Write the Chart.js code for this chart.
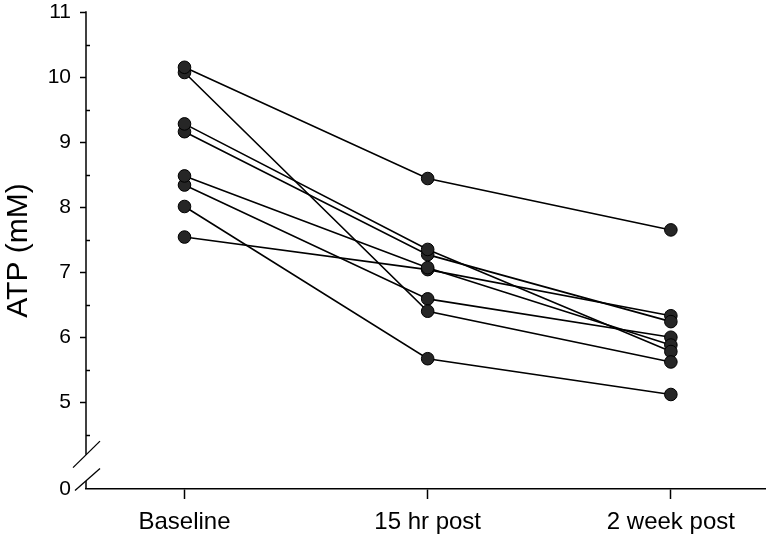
<!DOCTYPE html>
<html>
<head>
<meta charset="utf-8">
<script src="https://cdn.jsdelivr.net/npm/chart.js@4.4.1/dist/chart.umd.min.js"></script>
<style>
  body { margin: 0; background: #fff; }
  canvas { display: block; }
</style>
</head>
<body>
<canvas id="atpChart" width="773" height="538"></canvas>
<script>
// time points on the x axis
const timepoints = ["Baseline", "15 hr post", "2 week post"];

// ATP (mM) per subject
const baseline   = [10.15, 10.07, 9.28, 9.16, 8.48, 8.34, 8.01, 7.54];
const post15hr   = [8.44, 6.40, 7.35, 7.27, 7.07, 6.59, 5.67, 7.04];
const post2week  = [7.65, 5.62, 5.78, 6.24, 5.88, 6.00, 5.12, 6.33];

// y axis: broken axis, bottom of the scale is labelled 0
const yTicks = [5, 6, 7, 8, 9, 10, 11];
const yMinorTicks = [4.5, 5.5, 6.5, 7.5, 8.5, 9.5, 10.5];
const yBottom = 3.667;   // where the "0" sits
const yTop = 11;
const breakHi = 4.195;
const breakLo = 3.79;

const FONT = "'Liberation Sans', Arial, sans-serif";
Chart.defaults.color = "#000";
Chart.defaults.font.family = FONT;

const datasets = baseline.map((b, i) => ({
  label: "subject " + (i + 1),
  data: [
    { x: 0, y: b },
    { x: 1, y: post15hr[i] },
    { x: 2, y: post2week[i] }
  ],
  borderColor: "#000",
  borderWidth: 1.6,
  backgroundColor: "#262626",
  pointBackgroundColor: "#262626",
  pointBorderColor: "#000",
  pointBorderWidth: 1,
  pointRadius: 6.3,
  tension: 0
}));

// draw the split y axis line, inner minor ticks and the break marks
const axisDecor = {
  id: "axisDecor",
  afterDraw(chart) {
    const { ctx } = chart;
    const y = chart.scales.y;
    const x0 = chart.chartArea.left;
    const seg = (ax, ay, bx, by) => {
      ctx.beginPath();
      ctx.moveTo(ax, ay);
      ctx.lineTo(bx, by);
      ctx.stroke();
    };
    ctx.save();
    ctx.strokeStyle = "#000";
    ctx.lineWidth = 1.5;
    seg(x0, y.getPixelForValue(yTop) - 0.75, x0, y.getPixelForValue(breakHi));
    seg(x0, y.getPixelForValue(breakLo), x0, y.getPixelForValue(yBottom));
    yMinorTicks.forEach(v => {
      const p = Math.round(y.getPixelForValue(v)) + 0.5;
      seg(x0, p, x0 + 4, p);
    });
    ctx.lineWidth = 1.3;
    const ph = y.getPixelForValue(breakHi);
    const pl = y.getPixelForValue(breakLo);
    seg(x0 - 13, ph + 13, x0 + 14, ph - 13.5);
    seg(x0 - 11, pl + 9.5, x0 + 14, pl - 12.5);
    ctx.restore();
  }
};

new Chart(document.getElementById("atpChart"), {
  type: "line",
  data: { datasets },
  options: {
    responsive: false,
    animation: false,
    layout: { padding: { top: 12, right: 3, left: 0, bottom: 0 } },
    plugins: {
      legend: { display: false },
      tooltip: { enabled: false }
    },
    scales: {
      x: {
        type: "linear",
        min: -0.405,
        max: 2.39,
        afterBuildTicks: scale => {
          scale.ticks = timepoints.map((t, i) => ({ value: i }));
        },
        afterFit: scale => {
          scale.height = 49;
          scale.paddingLeft = 0;
          scale.paddingRight = 0;
        },
        ticks: {
          callback: v => timepoints[v],
          font: { size: 24 },
          padding: 9,
          maxRotation: 0
        },
        grid: {
          drawOnChartArea: false,
          tickLength: 10,
          tickColor: "#000",
          tickWidth: 1.5
        },
        border: { display: true, color: "#000", width: 1.5 }
      },
      y: {
        type: "linear",
        min: yBottom,
        max: yTop,
        afterBuildTicks: scale => {
          scale.ticks = [{ value: yBottom }].concat(yTicks.map(v => ({ value: v })));
        },
        afterFit: scale => {
          scale.width = 86;
          scale.paddingTop = 0;
          scale.paddingBottom = 0;
        },
        ticks: {
          callback: v => (v === yBottom ? "0" : String(v)),
          font: { size: 21 },
          padding: 9
        },
        grid: {
          drawOnChartArea: false,
          tickLength: 6,
          tickColor: ctx => (ctx.tick && ctx.tick.value === yBottom ? "rgba(0,0,0,0)" : "#000"),
          tickWidth: 1.5
        },
        border: { display: false },
        title: {
          display: true,
          text: "ATP (mM)",
          font: { size: 30 },
          padding: { top: 1, bottom: 0 }
        }
      }
    }
  },
  plugins: [axisDecor]
});
</script>
</body>
</html>
